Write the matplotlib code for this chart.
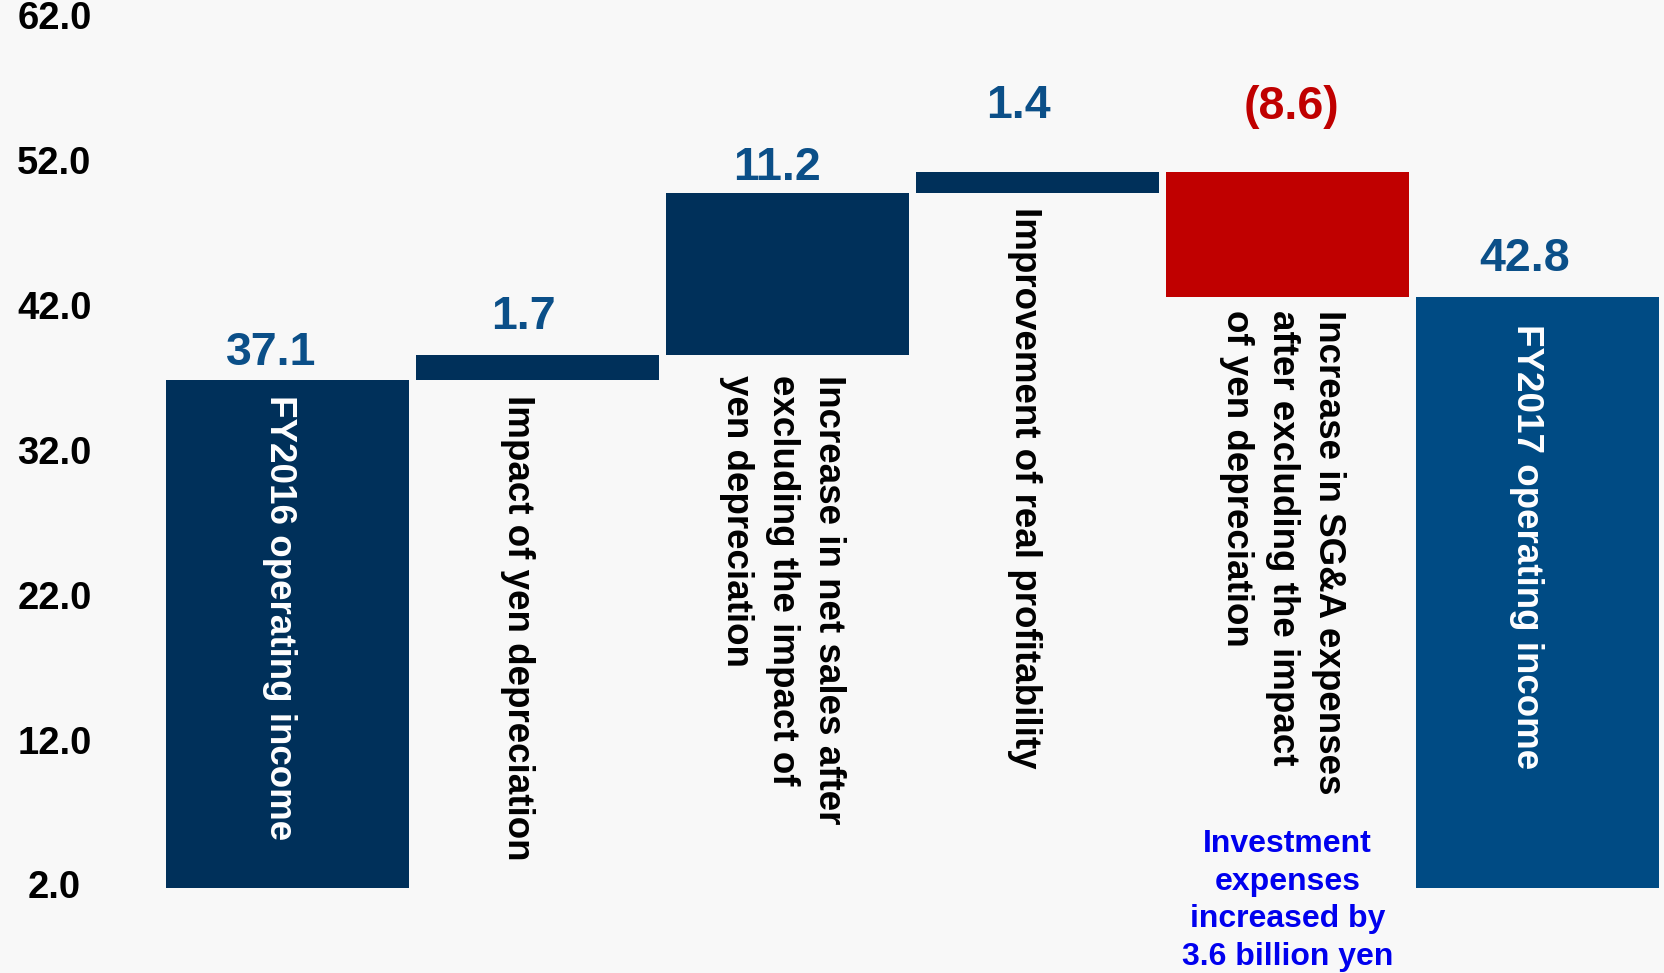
import matplotlib.pyplot as plt
from matplotlib.transforms import ScaledTranslation

# Operating income bridge, FY2016 -> FY2017 (billion yen)
steps = ['FY2016 operating income',
         'Impact of yen depreciation',
         'Increase in net sales after\nexcluding the impact of\nyen depreciation',
         'Improvement of real profitability',
         'Increase in SG&A expenses\nafter excluding the impact\nof yen depreciation',
         'FY2017 operating income']
start_value = 37.1
deltas = [1.7, 11.2, 1.4, -8.6]
end_value = 42.8
value_labels = ['37.1', '1.7', '11.2', '1.4', '(8.6)', '42.8']
y_ticks = [2.0, 12.0, 22.0, 32.0, 42.0, 52.0, 62.0]
note = 'Investment\nexpenses\nincreased by\n3.6 billion yen'

base = 2.0
navy = '#00305a'
blue = '#004b84'
red = '#c00000'
num_blue = '#0b4f88'
bg = '#f8f8f8'

plt.rcParams['font.family'] = ['Liberation Sans', 'DejaVu Sans']

# build waterfall segments
bottoms, heights, colors, tops = [], [], [], []
bottoms.append(base)
heights.append(start_value - base)
colors.append(navy)
tops.append(start_value)
level = start_value
for d in deltas:
    new = level + d
    bottoms.append(min(level, new))
    heights.append(abs(d))
    colors.append(navy if d >= 0 else red)
    tops.append(max(level, new))
    level = new
bottoms.append(base)
heights.append(end_value - base)
colors.append(blue)
tops.append(end_value)

fig = plt.figure(figsize=(16.65, 9.73), dpi=100, facecolor=bg)
ax = fig.add_axes([110 / 1665, 0, 1 - 110 / 1665, 1])
ax.set_facecolor(bg)

x = list(range(len(steps)))
ax.bar(x, heights, bottom=bottoms, width=0.972, color=colors, linewidth=0)

# value labels above each segment
label_gaps = [1.03, 1.76, 0.88, 3.74, 3.67, 1.83]
label_dx = [-0.064, -0.057, -0.042, -0.074, 0.015, -0.051]
for i, lab in enumerate(value_labels):
    c = red if lab.startswith('(') else num_blue
    ax.text(i + label_dx[i], tops[i] + label_gaps[i], lab, ha='center',
            va='baseline', fontsize=33.5, fontweight='bold', color=c)

# vertical step descriptions
text_dx = [-0.03, -0.08, -0.02, -0.05, -0.02, -0.045]
text_top = [tops[0] - 1.07, bottoms[1] - 1.1, bottoms[2] - 1.38,
            bottoms[3] - 1.0, bottoms[4] - 0.9, tops[5] - 1.86]
text_col = ['white', 'black', 'black', 'black', 'black', 'white']
for i, s in enumerate(steps):
    ax.text(i + text_dx[i], text_top[i], s, rotation=-90, ha='center', va='top',
            multialignment='left', linespacing=1.4,
            fontsize=26.5, fontweight='bold', color=text_col[i])

ax.text(4, 6.05, note, ha='center', va='top', multialignment='center',
        linespacing=1.33, fontsize=23, fontweight='bold', color='#0000ee')

ax.set_xlim(-0.7086, 5.5095)
ax.set_ylim(-3.88, 63.31)
ax.set_yticks(y_ticks)
ax.set_yticklabels([f'{v:.1f}' for v in y_ticks], fontsize=27.5,
                   fontweight='bold', ha='center')
ax.tick_params(axis='y', length=0, pad=40)
nudge = ScaledTranslation(0, 2.5 / 72, fig.dpi_scale_trans)
for t in ax.get_yticklabels():
    t.set_transform(t.get_transform() + nudge)
ax.set_xticks([])
for sp in ax.spines.values():
    sp.set_visible(False)

fig.savefig('out.png', dpi=100, facecolor=bg)
